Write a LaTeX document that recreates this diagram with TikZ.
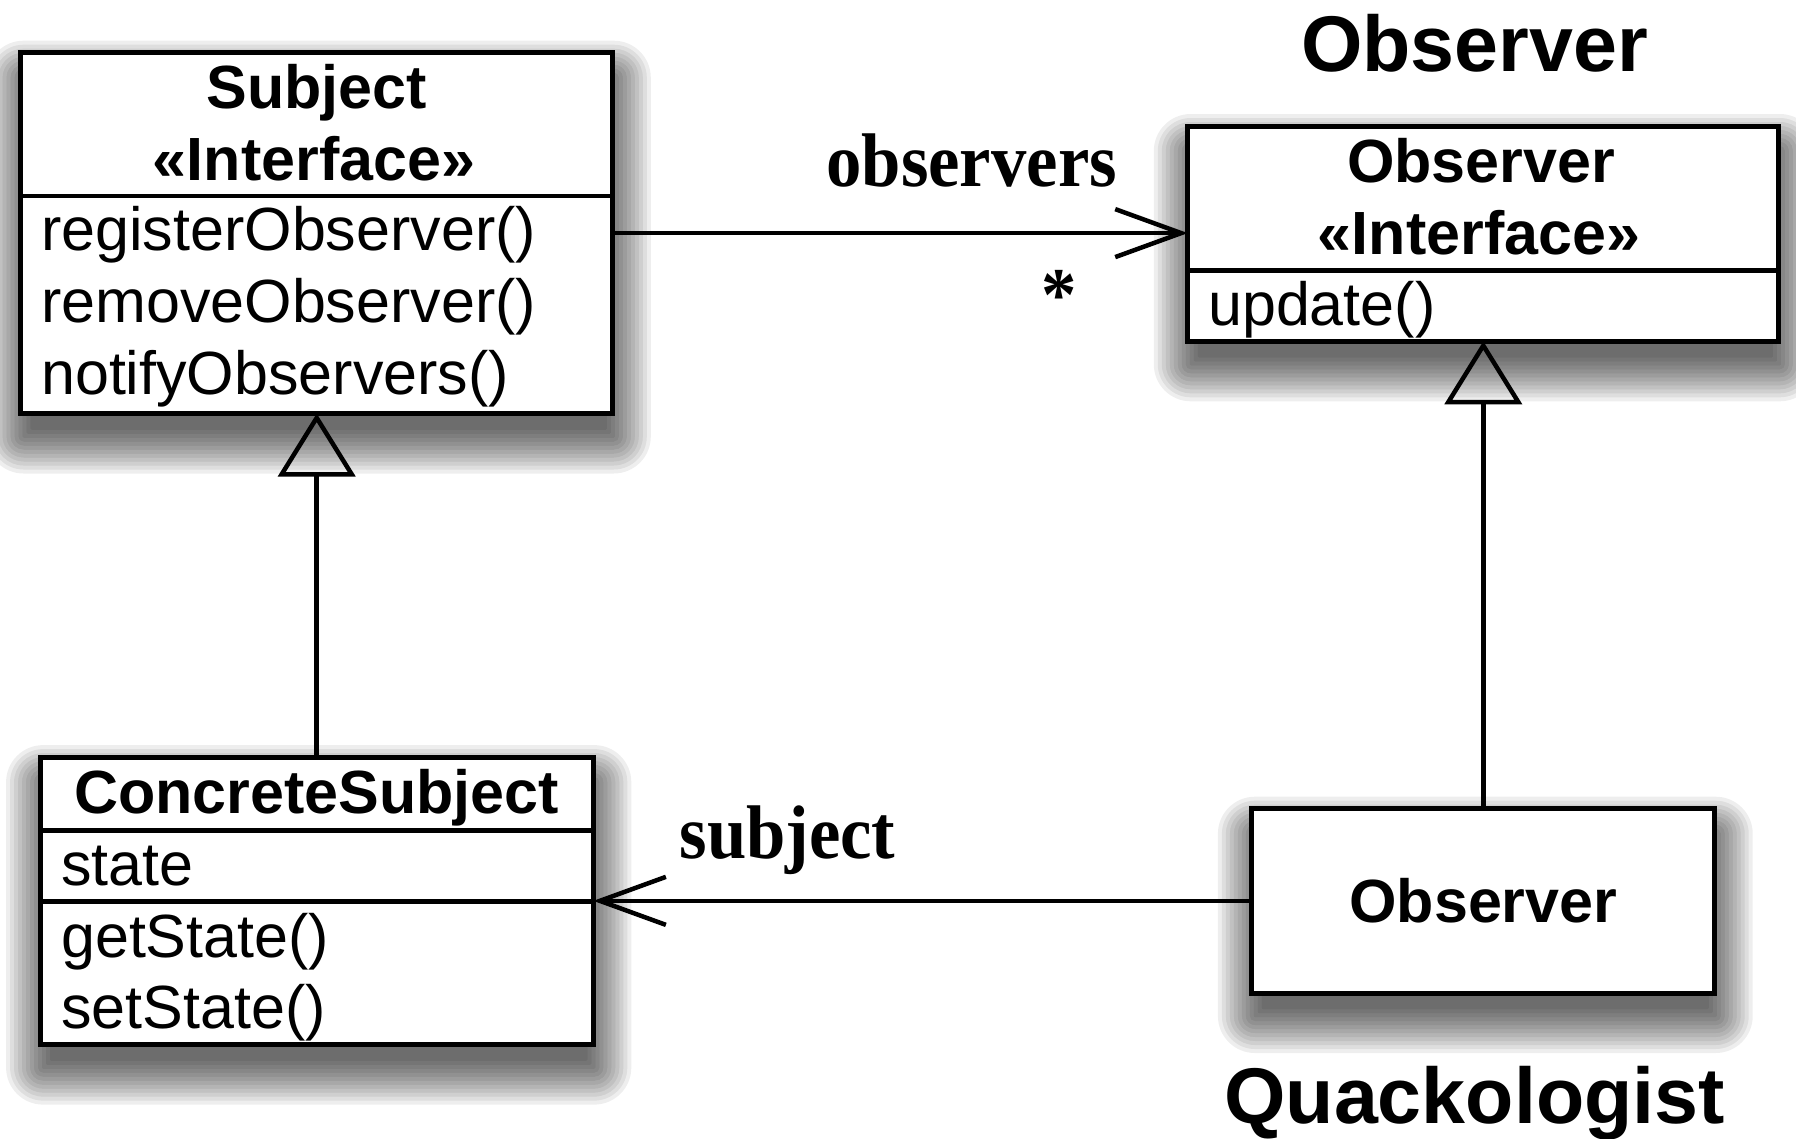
\documentclass[tikz,border=0pt]{standalone}
\usepackage{fontspec}
\setmainfont{Liberation Sans}
\newfontfamily\labelserif[FakeStretch=0.93]{Liberation Serif}
\usetikzlibrary{arrows.meta,backgrounds}
\newcommand\classfont{\fontsize{61}{71.5}\selectfont}
\newcommand\bigfont{\fontsize{79}{90}\selectfont\bfseries}
\newcommand\rolefont{\labelserif\fontsize{76}{86}\selectfont\bfseries}
\newcommand\softshadow[1]{%
  \foreach \e in {0,4,...,44}{%
    \pgfmathsetmacro\rc{max(\e-8,0)+1}%
    \fill[black,opacity=0.065,rounded corners=\rc pt]
      ([shift={(10-\e,32-\e)}]#1.north west) rectangle ([shift={(\e-6,\e+16)}]#1.south east);
  }}
\begin{document}
\begin{tikzpicture}[x=1pt,y=-1pt,
  classbox/.style={draw, line width=5pt, fill=white, inner sep=0pt, outer sep=0pt},
  divider/.style={line width=4.5pt},
  title/.style={font={\classfont\bfseries}, anchor=base, inner sep=0pt},
  member/.style={font=\classfont, anchor=base west, inner sep=0pt},
  rolelabel/.style={font=\rolefont, anchor=base, inner sep=0pt},
  biglabel/.style={font=\bigfont, anchor=base, inner sep=0pt},
  assoc/.style={line width=4.5pt, -{Straight Barb[length=66pt,width=48pt]}},
  inherit/.style={line width=4.5pt, -{Triangle[open,length=63pt,width=77pt]}},
]
\useasboundingbox (0,0) rectangle (1796,1138);

% class boxes
\node[classbox, minimum width=592.2pt, minimum height=360.8pt] (subj) at (316.7,233.1) {};
\node[classbox, minimum width=591pt, minimum height=215.3pt] (obsi) at (1483.3,233.65) {};
\node[classbox, minimum width=553.2pt, minimum height=287.5pt] (conc) at (316.7,900.85) {};
\node[classbox, minimum width=462.8pt, minimum height=184.3pt, font={\classfont\bfseries}] (quack) at (1483.3,900.85) {Observer};

% compartments
\draw[divider] ([shift={(0,143.3)}]subj.north west) -- ([shift={(0,143.3)}]subj.north east);
\draw[divider] ([shift={(0,144.3)}]obsi.north west) -- ([shift={(0,144.3)}]obsi.north east);
\draw[divider] ([shift={(0,73.3)}]conc.north west) -- ([shift={(0,73.3)}]conc.north east);
\draw[divider] ([shift={(0,144.3)}]conc.north west) -- ([shift={(0,144.3)}]conc.north east);

% texts
\node[title] (subjname) at (316.7,108.5) {Subject};
\node[title] (subjst) at (314,180) {«Interface»};
\node[member] (m1) at (41,250) {registerObserver()};
\node[member] (m2) at (41,322) {removeObserver()};
\node[member] (m3) at (41,394) {notifyObservers()};

\node[title] (obsname) at (1481,182) {Observer};
\node[title] (obsst) at (1479,254) {«Interface»};
\node[member] (m4) at (1208,325) {update()};

\node[title] (concname) at (316.7,813) {ConcreteSubject};
\node[member] (a1) at (61,885) {state};
\node[member] (m5) at (61,957) {getState()};
\node[member] (m6) at (61,1028.5) {setState()};

\node[biglabel] (lblobs) at (1474.5,71) {Observer};
\node[biglabel] (lblquack) at (1474.5,1123) {Quackologist};
\node[rolelabel] (lblobservers) at (971.7,186.7) {observers};
\node[rolelabel] (lblsubject) at (787.5,858) {subject};
\node[rolelabel] (star) at (1059.5,320) {*};

% connectors
\draw[assoc] (subj.east) -- (subj.east -| obsi.west);
\draw[assoc] (quack.west) -- (conc.east);
\draw[inherit] (conc.north) -- (subj.south);
\draw[inherit] (quack.north) -- (obsi.south);

% shadows
\begin{scope}[on background layer]
\fill[white] (0,0) rectangle (1796,1138);
\foreach \n in {subj,obsi,conc,quack}{\softshadow{\n}}
\end{scope}
\end{tikzpicture}
\end{document}
